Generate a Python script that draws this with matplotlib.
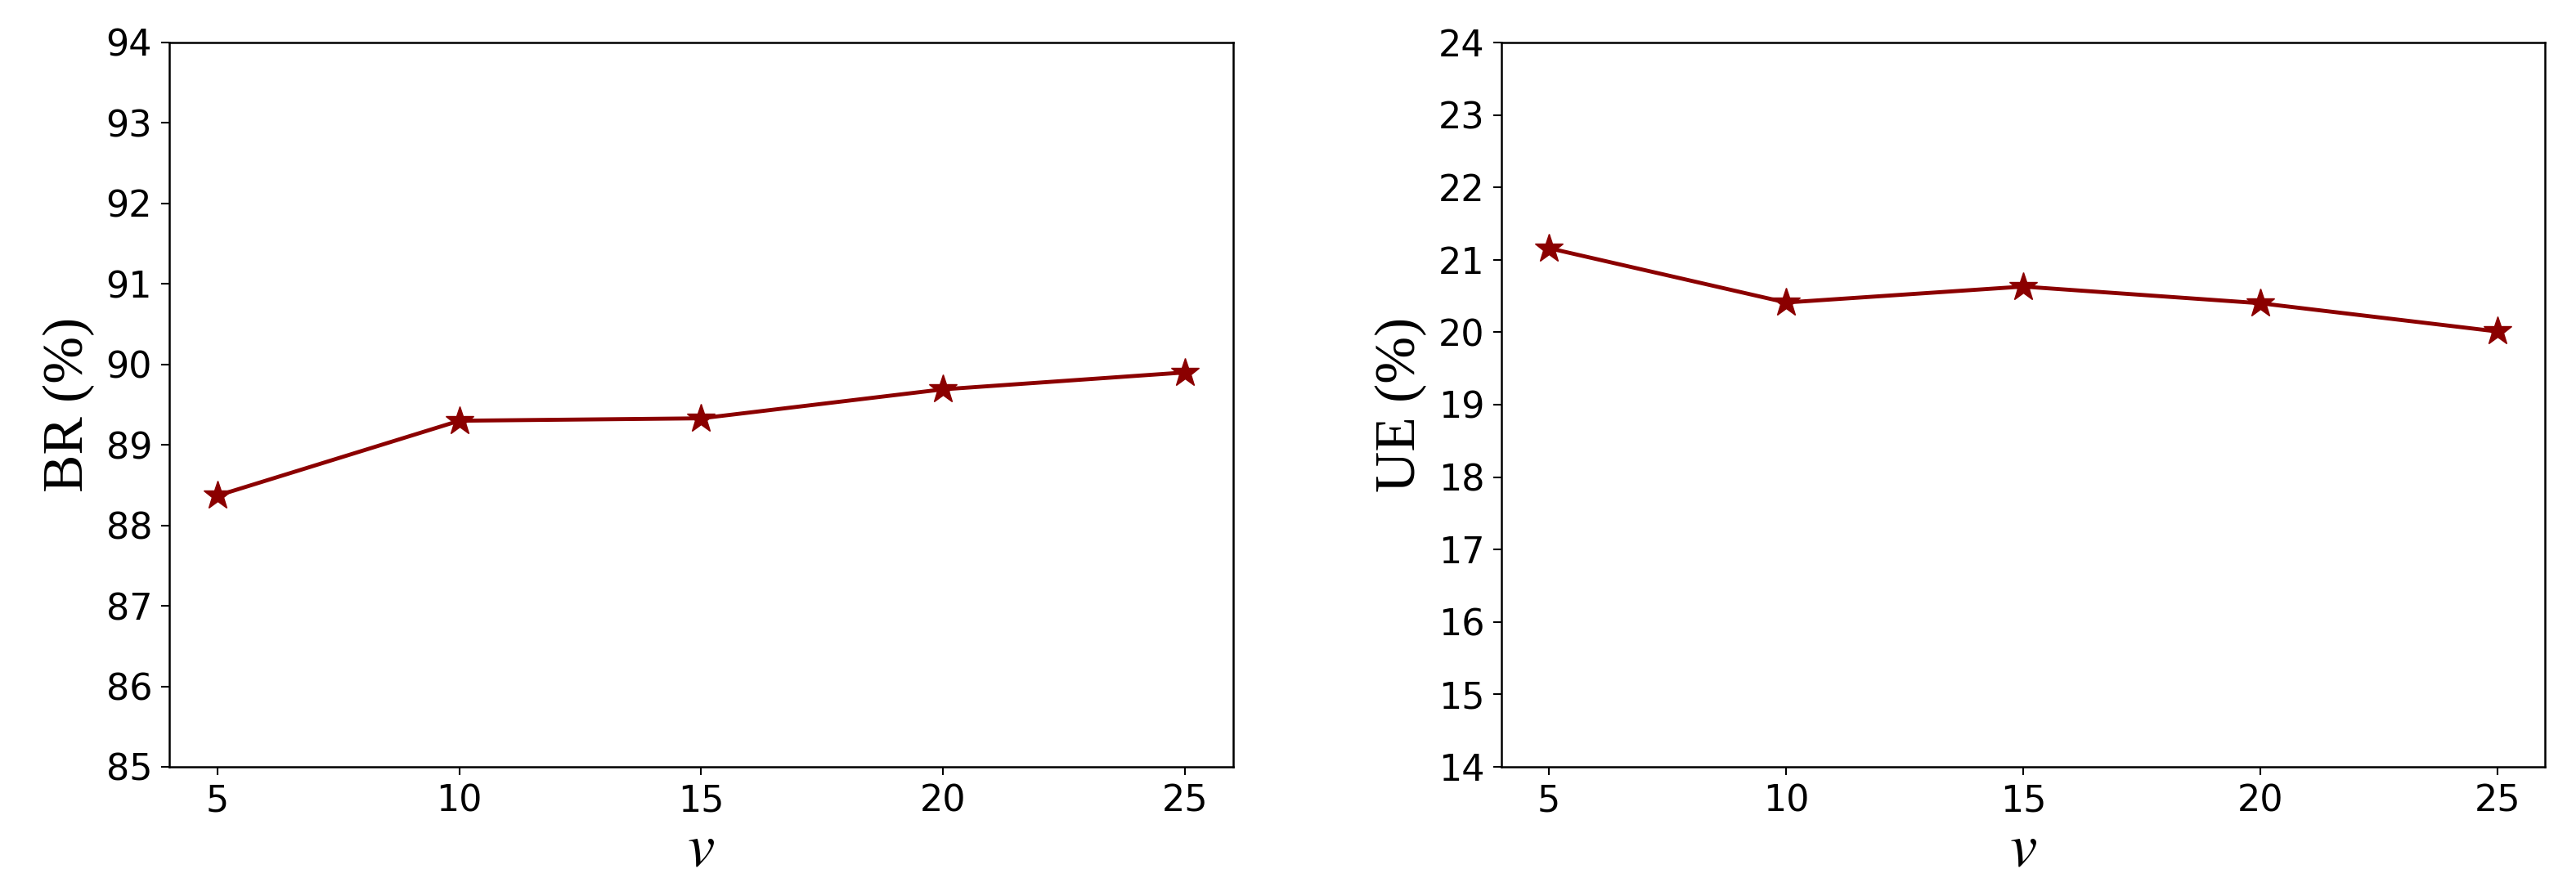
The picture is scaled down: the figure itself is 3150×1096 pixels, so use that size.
import matplotlib
matplotlib.use("Agg")
import matplotlib.pyplot as plt

v = [5, 10, 15, 20, 25]
br = [88.37, 89.30, 89.33, 89.69, 89.90]
ue = [21.16, 20.41, 20.63, 20.40, 20.01]

plt.rcParams['mathtext.fontset'] = 'stix'

fig = plt.figure(figsize=(31.5, 10.96), dpi=100)
ax1 = fig.add_axes([0.0657, 0.1442, 0.4130, 0.8084])
ax2 = fig.add_axes([0.5829, 0.1442, 0.4050, 0.8084])

for ax, y, lab, lim in [(ax1, br, 'BR (%)', (85, 94)), (ax2, ue, 'UE (%)', (14, 24))]:
    ax.plot(v, y, color='darkred', marker='*', markersize=26, linewidth=3.5)
    ax.set_ylim(lim)
    ax.set_yticks(range(lim[0], lim[1] + 1))
    ax.set_xticks(v)
    ax.tick_params(labelsize=32, length=7, width=1.5, pad=8)
    for s in ax.spines.values():
        s.set_linewidth(1.8)
    ax.set_ylabel(lab, fontsize=50, family='Liberation Serif', labelpad=10)
    ax.set_xlabel('$v$', fontsize=54, labelpad=0)

fig.savefig('out.png', dpi=100)
